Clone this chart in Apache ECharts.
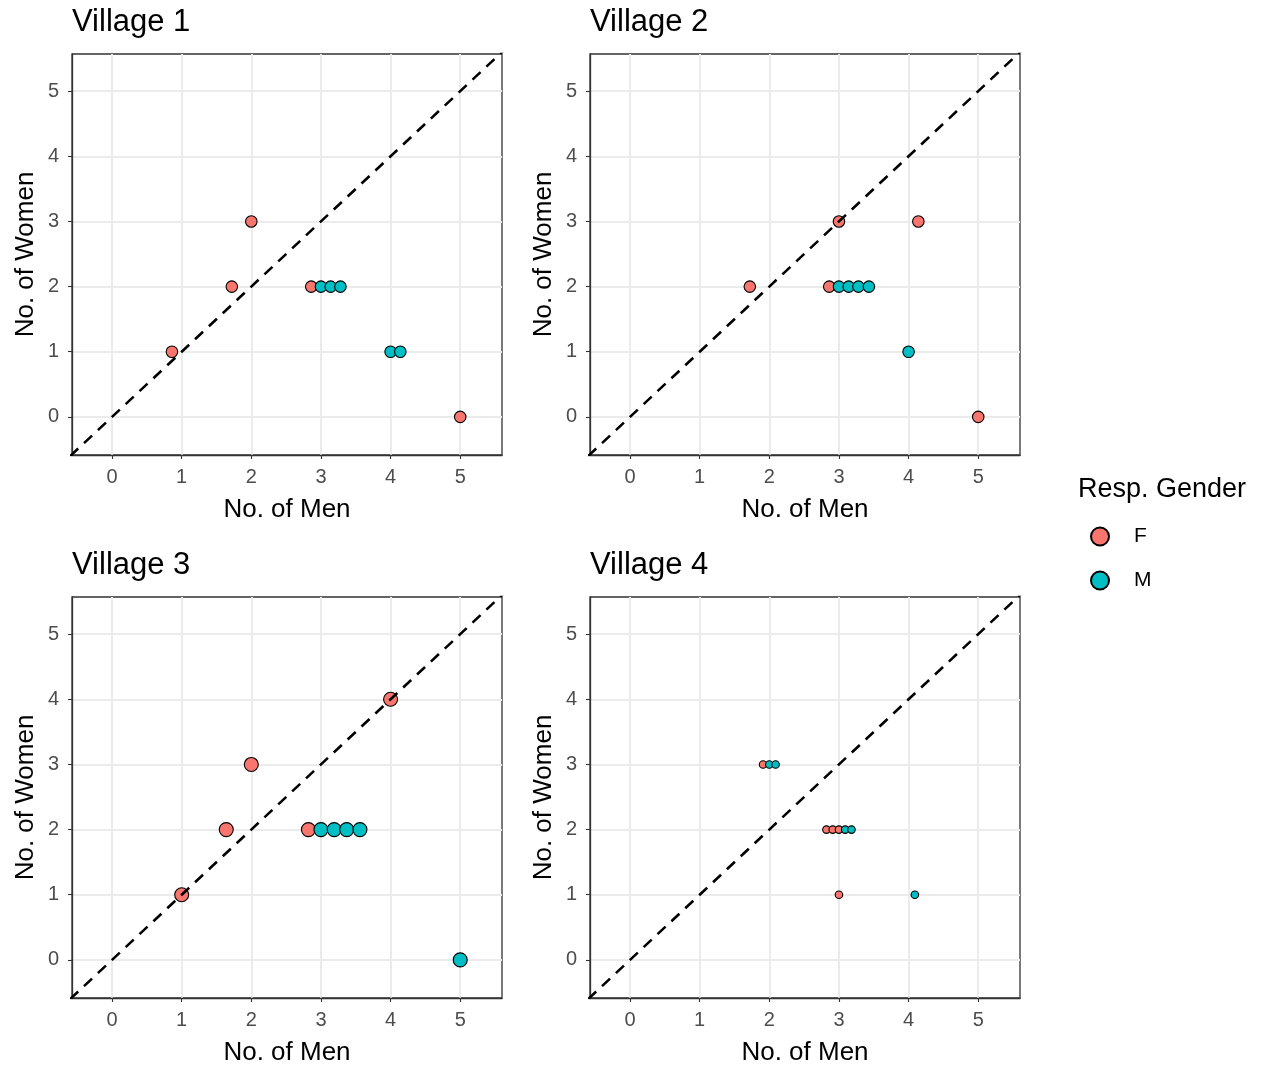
<!DOCTYPE html>
<html><head><meta charset="utf-8">
<script src="https://cdn.jsdelivr.net/npm/echarts@6/dist/echarts.min.js"></script>
<style>html,body{margin:0;padding:0;background:#fff}#c{width:1261px;height:1068px}</style>
</head><body><div id="c"></div>
<script>
var panelTitles = ['Village 1', 'Village 2', 'Village 3', 'Village 4'];
var tickValues = [0, 1, 2, 3, 4, 5];
var v1F = [[0.86,1],[1.72,2],[2,3],[2.86,2],[5,0]];
var v1M = [[3,2],[3.14,2],[3.28,2],[4,1],[4.14,1]];
var v2F = [[1.72,2],[3,3],[4.14,3],[2.86,2],[5,0]];
var v2M = [[3,2],[3.14,2],[3.28,2],[3.43,2],[4,1]];
var v3F = [[1,1],[1.64,2],[2,3],[4,4],[2.82,2]];
var v3M = [[3,2],[3.19,2],[3.37,2],[3.56,2],[5,0]];
var v4F = [[1.91,3],[2.82,2],[2.91,2],[3,2],[3,1]];
var v4M = [[2,3],[2.09,3],[3.09,2],[3.18,2],[4.09,1]];
var diag = [[-1,-1],[6,6]];

var fData = [v1F, v2F, v3F, v4F];
var mData = [v1M, v2M, v3M, v4M];
var sizes = [11.5, 11.5, 14, 7.5];
var colF = '#F8766D', colM = '#00BFC4';
var font = 'Liberation Sans, Arial, Helvetica, sans-serif';

var lefts = [72, 590, 72, 590], tops = [54, 54, 597, 597];
var grids = [], xAxes = [], yAxes = [], series = [], titles = [];
for (var i = 0; i < 4; i++) {
  grids.push({left: lefts[i], top: tops[i], width: 430, height: 401, show: true,
    borderColor: '#333333', borderWidth: 1.3, backgroundColor: '#fff', z: 0});
  titles.push({text: panelTitles[i], left: lefts[i] - 5, top: tops[i] - 52,
    textStyle: {fontFamily: font, fontSize: 31, fontWeight: 'normal', color: '#000'}});
  var axCommon = {
    type: 'value', gridIndex: i,
    nameLocation: 'middle',
    nameTextStyle: {fontFamily: font, fontSize: 26, color: '#000'},
    axisLine: {show: true, onZero: false, lineStyle: {color: '#333', width: 1.3}},
    axisTick: {show: true, length: 4, customValues: tickValues, lineStyle: {color: '#333', width: 1.1}},
    axisLabel: {customValues: tickValues, fontFamily: font, fontSize: 20, color: '#4d4d4d'},
    splitLine: {show: true, lineStyle: {color: '#ebebeb', width: 2}}
  };
  xAxes.push(Object.assign({}, axCommon, {min: -0.575, max: 5.6, name: 'No. of Men', nameGap: 42,
    axisLabel: Object.assign({}, axCommon.axisLabel, {margin: 12})}));
  yAxes.push(Object.assign({}, axCommon, {min: -0.585, max: 5.57, name: 'No. of Women', nameGap: 33,
    axisLabel: Object.assign({}, axCommon.axisLabel, {margin: 13})}));
  series.push({type: 'scatter', name: 'F', xAxisIndex: i, yAxisIndex: i, data: fData[i],
    symbolSize: sizes[i], itemStyle: {color: colF, borderColor: '#000', borderWidth: 1.1, opacity: 1}, z: 3});
  series.push({type: 'scatter', name: 'M', xAxisIndex: i, yAxisIndex: i, data: mData[i],
    symbolSize: sizes[i], itemStyle: {color: colM, borderColor: '#000', borderWidth: 1.1, opacity: 1}, z: 3});
  series.push({type: 'line', xAxisIndex: i, yAxisIndex: i, data: diag, showSymbol: false, symbol: 'none',
    clip: true, silent: true, lineStyle: {color: '#000', width: 2.6, type: [11, 8]}, z: 4});
}

var chart = echarts.init(document.getElementById('c'), null, {renderer: 'canvas'});
chart.setOption({
  animation: false,
  backgroundColor: '#fff',
  title: titles,
  grid: grids, xAxis: xAxes, yAxis: yAxes, series: series,
  legend: {data: ['F', 'M'], orient: 'vertical', left: 1085, top: 521, itemGap: 23,
    icon: 'circle', itemWidth: 18, itemHeight: 18,
    textStyle: {fontFamily: font, fontSize: 21, color: '#000', padding: [0, 0, 0, 20]}},
  graphic: [{type: 'text', left: 1078, top: 476,
    style: {text: 'Resp. Gender', fontFamily: font, fontSize: 27, fill: '#000'}}]
});
</script></body></html>
